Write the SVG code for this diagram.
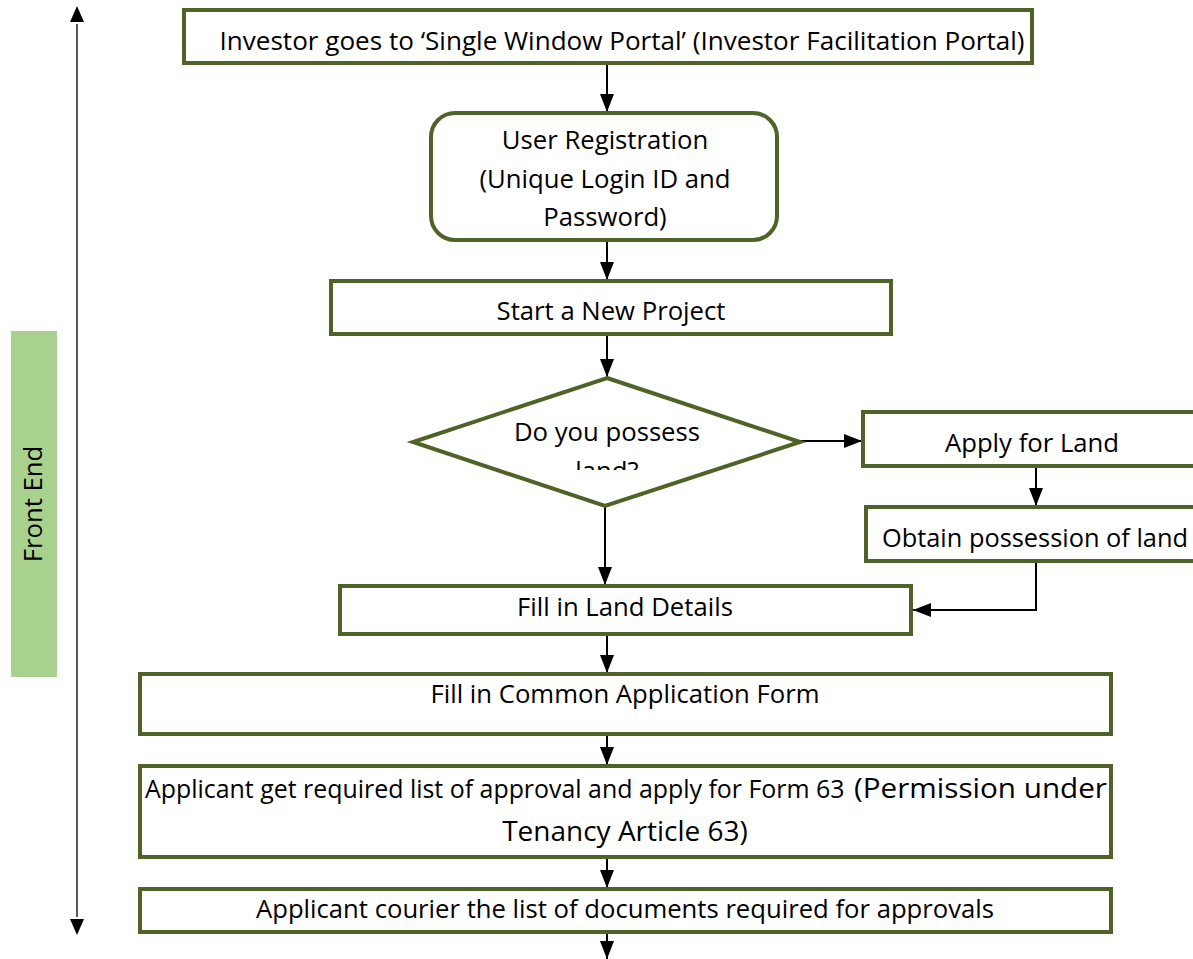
<svg xmlns="http://www.w3.org/2000/svg" width="1193" height="959" viewBox="0 0 1193 959">
<defs>
<style>
.n{fill:#fff;stroke:#4F6228;stroke-width:4}
.t{font-family:"Open Sans","Liberation Sans",sans-serif;font-size:25.7px;fill:#000;text-anchor:middle}
.c{stroke:#000;stroke-width:2;fill:none}
</style>
<marker id="a" markerWidth="18" markerHeight="18" viewBox="0 0 18 18" refX="18" refY="9" orient="auto" markerUnits="userSpaceOnUse">
<path d="M0,2 L18,9 L0,16 Z" fill="#000"/>
</marker>
</defs>
<rect width="1193" height="959" fill="#fff"/>
<g id="lane">
<rect x="11" y="331" width="46" height="346" fill="#A9D18E"/>
<text class="t" transform="translate(42,504) rotate(-90)">Front End</text>
<line x1="77" y1="24" x2="77" y2="917" stroke="#595959" stroke-width="2"/>
<path d="M77,6 L70,22 L84,22 Z" fill="#000"/>
<path d="M77,935 L70,919 L84,919 Z" fill="#000"/>
</g>
<g id="connectors">
<line class="c" x1="607" y1="63" x2="607" y2="112" marker-end="url(#a)"/>
<line class="c" x1="607" y1="240" x2="607" y2="280" marker-end="url(#a)"/>
<line class="c" x1="607" y1="334" x2="607" y2="377" marker-end="url(#a)"/>
<line class="c" x1="800" y1="441" x2="862" y2="441" marker-end="url(#a)"/>
<line class="c" x1="1036" y1="466" x2="1036" y2="506" marker-end="url(#a)"/>
<polyline class="c" points="1036,561 1036,610 913,610" marker-end="url(#a)"/>
<line class="c" x1="605" y1="506" x2="605" y2="585" marker-end="url(#a)"/>
<line class="c" x1="607" y1="634" x2="607" y2="673" marker-end="url(#a)"/>
<line class="c" x1="607" y1="734" x2="607" y2="765" marker-end="url(#a)"/>
<line class="c" x1="607" y1="857" x2="607" y2="888" marker-end="url(#a)"/>
<line class="c" x1="607" y1="932" x2="607" y2="959" marker-end="url(#a)"/>
</g>
<g id="n1">
<rect class="n" x="184" y="10" width="848" height="53"/>
<text class="t" x="622" y="50" textLength="805" lengthAdjust="spacingAndGlyphs">Investor goes to ‘Single Window Portal’ (Investor Facilitation Portal)</text>
</g>
<g id="n2">
<rect class="n" x="431" y="113" width="346" height="127" rx="24"/>
<text class="t" x="605" y="149">User Registration</text>
<text class="t" x="605" y="188">(Unique Login ID and</text>
<text class="t" x="605" y="226">Password)</text>
</g>
<g id="n3">
<rect class="n" x="331" y="281" width="560" height="53"/>
<text class="t" x="611" y="320">Start a New Project</text>
</g>
<g id="n4">
<polygon class="n" points="607,378 800,442 605,506 413,442"/>
<svg x="413" y="378" width="387" height="92" overflow="hidden">
<text class="t" x="194" y="63">Do you possess</text>
<text class="t" x="194" y="102">land?</text>
</svg>
</g>
<g id="n5">
<rect class="n" x="863" y="412" width="340" height="54"/>
<text class="t" x="1032" y="452">Apply for Land</text>
</g>
<g id="n6">
<rect class="n" x="866" y="507" width="340" height="54"/>
<text class="t" x="1035" y="547" textLength="306" lengthAdjust="spacingAndGlyphs">Obtain possession of land</text>
</g>
<g id="n7">
<rect class="n" x="340" y="586" width="571" height="48"/>
<text class="t" x="625" y="616">Fill in Land Details</text>
</g>
<g id="n8">
<rect class="n" x="140" y="674" width="971" height="60"/>
<text class="t" x="625" y="703">Fill in Common Application Form</text>
</g>
<g id="n9">
<rect class="n" x="140" y="766" width="971" height="91"/>
<text class="t" x="145" y="798" style="text-anchor:start"><tspan textLength="706" lengthAdjust="spacingAndGlyphs">Applicant get required list of approval and apply for Form 63 </tspan><tspan x="854" style="font-size:28px" textLength="253" lengthAdjust="spacingAndGlyphs">(Permission under</tspan></text>
<text class="t" x="625" y="841" style="font-size:28px">Tenancy Article 63)</text>
</g>
<g id="n10">
<rect class="n" x="140" y="889" width="971" height="43"/>
<text class="t" x="625" y="918" textLength="738" lengthAdjust="spacingAndGlyphs">Applicant courier the list of documents required for approvals</text>
</g>
</svg>
